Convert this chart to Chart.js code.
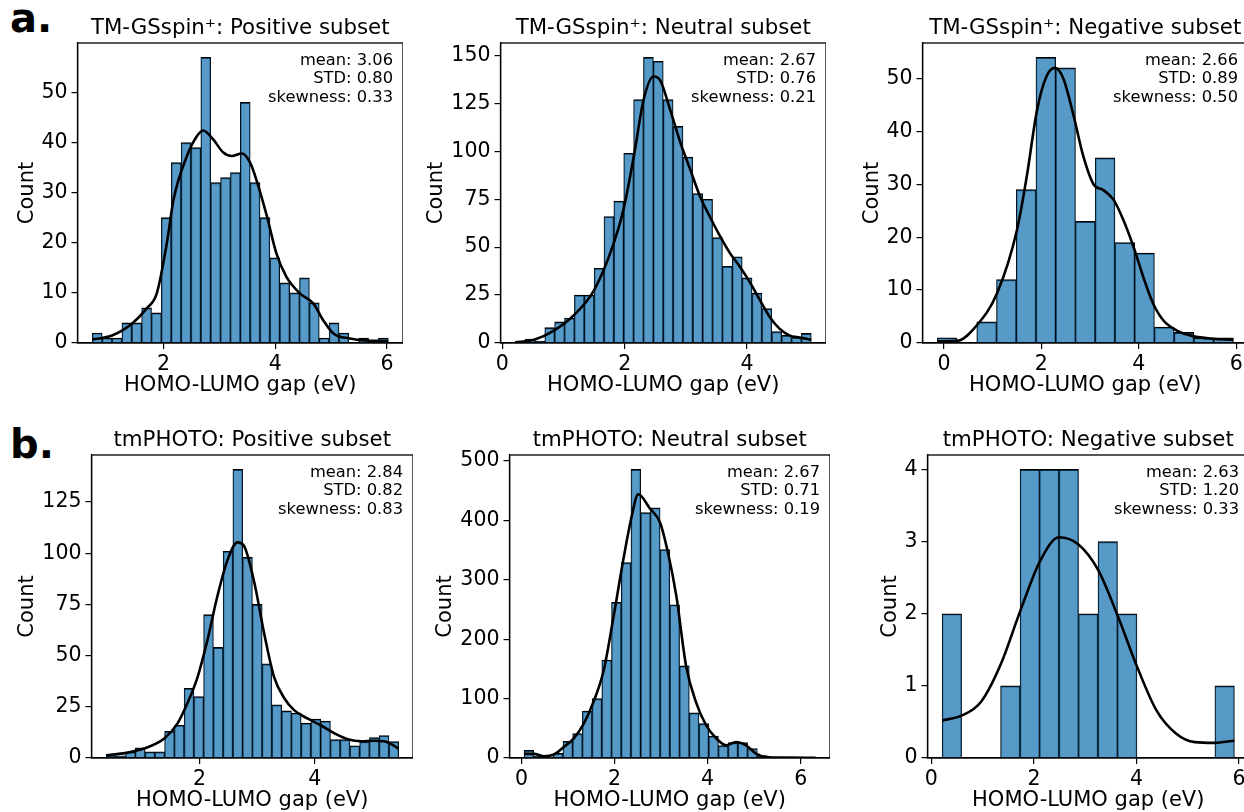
<!DOCTYPE html>
<html>
<head>
<meta charset="utf-8">
<title>HOMO-LUMO gap histograms</title>
<script src="https://cdn.jsdelivr.net/npm/chart.js@4.4.1/dist/chart.umd.min.js"></script>
<style>
  html, body { margin: 0; padding: 0; background: #fff; overflow: hidden; }
  body { width: 1244px; height: 812px; position: relative; }
  canvas { position: absolute; }
  .tag { position: absolute; font: bold 40px 'DejaVu Sans'; line-height: 40px; color: #000; }
</style>
</head>
<body>
<div class="tag" style="left:10px; top:-2px">a.</div>
<div class="tag" style="left:10px; top:424px">b.</div>
<canvas id="c1"></canvas>
<canvas id="c2"></canvas>
<canvas id="c3"></canvas>
<canvas id="c4"></canvas>
<canvas id="c5"></canvas>
<canvas id="c6"></canvas>
<script>
// panel titles and the stats box text
const titles = [
    'TM-GSspin\u207A: Positive subset',
    'TM-GSspin\u207A: Neutral subset',
    'TM-GSspin\u207A: Negative subset',
    'tmPHOTO: Positive subset',
    'tmPHOTO: Neutral subset',
    'tmPHOTO: Negative subset'
];
const stats = [
    ['mean: 3.06', 'STD: 0.80', 'skewness: 0.33'],
    ['mean: 2.67', 'STD: 0.76', 'skewness: 0.21'],
    ['mean: 2.66', 'STD: 0.89', 'skewness: 0.50'],
    ['mean: 2.84', 'STD: 0.82', 'skewness: 0.83'],
    ['mean: 2.67', 'STD: 0.71', 'skewness: 0.19'],
    ['mean: 2.63', 'STD: 1.20', 'skewness: 0.33']
];

// histogram bins (first edge, width in eV) and counts
const binStarts = [0.727, 0.21, -0.136, 0.382, 0.057, 0.21];
const binWidths = [0.1765, 0.1613, 0.405, 0.169, 0.2088, 0.38];
const counts1 = [2, 1, 1, 4, 4, 7, 6, 25, 36, 40, 39, 57, 32, 33, 34, 48, 32, 25, 17, 12, 10, 13, 8, 1, 4, 2, 0, 1, 0, 1];
const counts2 = [1, 2, 1, 8, 11, 13, 25, 25, 39, 66, 74, 99, 127, 149, 147, 127, 113, 97, 78, 75, 55, 40, 45, 34, 26, 18, 6, 4, 3, 5];
const counts3 = [1, 0, 4, 12, 29, 54, 52, 23, 35, 19, 17, 3, 2, 1, 1];
const counts4 = [1, 1, 3, 5, 3, 3, 13, 16, 34, 30, 70, 54, 101, 141, 98, 75, 46, 26, 23, 22, 17, 19, 18, 9, 9, 6, 8, 10, 11, 8];
const counts5 = [13, 3, 2, 8, 28, 41, 79, 100, 165, 262, 329, 486, 413, 421, 351, 258, 155, 76, 58, 37, 21, 26, 26, 16, 4, 1, 0, 0, 0, 1];
const counts6 = [2, 0, 0, 1, 4, 4, 4, 2, 3, 2, 0, 0, 0, 0, 1];

// kde curves
const kdeX1 = [0.73, 1.08, 1.44, 1.70, 1.88, 2.06, 2.18, 2.42, 2.60, 2.71, 2.89, 3.07, 3.22, 3.40, 3.55, 3.67, 3.85, 4.02, 4.20, 4.44, 4.68, 4.86, 5.04, 5.33, 5.63, 6.02];
const kdeY1 = [0.7, 1.5, 3.9, 6.9, 9.9, 19.9, 28.6, 37.3, 41.3, 42.4, 40.6, 38.0, 37.3, 37.8, 36.0, 32.3, 25.3, 17.9, 13.2, 9.9, 7.9, 4.5, 1.9, 0.9, 0.5, 0.4];
const kdeX2 = [0.21, 0.52, 0.85, 1.17, 1.50, 1.82, 1.98, 2.15, 2.31, 2.47, 2.58, 2.74, 2.91, 3.07, 3.23, 3.39, 3.56, 3.72, 3.88, 4.04, 4.21, 4.37, 4.53, 4.69, 4.86, 5.05];
const kdeY2 = [0.3, 1.7, 6.6, 14.5, 27.6, 52, 69.6, 97.6, 127, 139, 137, 122, 104.5, 90.6, 76.6, 66, 55.6, 46.9, 39.9, 32, 22.4, 13.6, 7.5, 4.0, 2.8, 1.7];
const kdeX3 = [-0.136, 0.27, 0.68, 1.09, 1.50, 1.70, 1.91, 2.11, 2.28, 2.45, 2.66, 2.86, 3.07, 3.27, 3.48, 3.68, 3.89, 4.09, 4.29, 4.50, 4.77, 5.11, 5.52, 5.94];
const kdeY3 = [0.3, 0.4, 3.4, 9.4, 21.4, 31.5, 44, 50.5, 52, 50, 43, 35.3, 30, 28.9, 27.1, 23.3, 18.2, 12.5, 7.5, 4.3, 2.4, 1.3, 0.8, 0.6];
const kdeX4 = [0.382, 0.73, 1.04, 1.39, 1.62, 1.79, 1.97, 2.14, 2.31, 2.49, 2.66, 2.77, 2.95, 3.12, 3.29, 3.47, 3.64, 3.87, 4.10, 4.34, 4.57, 4.80, 5.03, 5.20, 5.451];
const kdeY4 = [1.3, 2.5, 4.6, 9.5, 16.9, 26.7, 39.8, 57.8, 79, 97, 105.3, 103.7, 85.7, 61, 39.8, 29.2, 23.4, 19.3, 16, 12, 9.2, 8.2, 8.4, 8.2, 4.6];
const kdeX5 = [0.057, 0.27, 0.48, 0.70, 0.91, 1.12, 1.34, 1.55, 1.77, 1.98, 2.19, 2.37, 2.51, 2.76, 2.98, 3.15, 3.33, 3.54, 3.76, 3.97, 4.19, 4.40, 4.61, 4.83, 5.04, 5.25, 5.68, 6.32];
const kdeY5 = [7, 7, 3, 6, 18.6, 32.7, 58, 94.6, 148, 238, 334, 407, 444, 420, 396, 345, 272, 154, 92, 55, 32.7, 21.4, 27, 21.4, 7.3, 1.7, 0.6, 0.5];
const kdeX6 = [0.21, 0.60, 0.97, 1.36, 1.74, 2.12, 2.49, 2.87, 3.25, 3.64, 4.01, 4.39, 4.77, 5.14, 5.52, 5.91];
const kdeY6 = [0.52, 0.59, 0.78, 1.31, 2.05, 2.73, 3.06, 2.96, 2.61, 1.96, 1.27, 0.66, 0.34, 0.22, 0.21, 0.24];

// axis ranges and ticks
const xMins = [0.462, -0.03, -0.44, 0.129, -0.256, -0.075];
const xMaxs = [6.285, 5.29, 6.24, 5.70, 6.63, 6.195];
const yMaxs = [59.85, 156.5, 56.7, 148, 510, 4.2];
const xTicks = [[2, 4, 6], [0, 2, 4], [0, 2, 4, 6], [2, 4], [0, 2, 4, 6], [0, 2, 4, 6]];
const yTicks = [
    [0, 10, 20, 30, 40, 50],
    [0, 25, 50, 75, 100, 125, 150],
    [0, 10, 20, 30, 40, 50],
    [0, 25, 50, 75, 100, 125],
    [0, 100, 200, 300, 400, 500],
    [0, 1, 2, 3, 4]
];

const allCounts = [counts1, counts2, counts3, counts4, counts5, counts6];
const allKdeX = [kdeX1, kdeX2, kdeX3, kdeX4, kdeX5, kdeX6];
const allKdeY = [kdeY1, kdeY2, kdeY3, kdeY4, kdeY5, kdeY6];

// plot boxes on the page: left, top, right, bottom, and where "Count" sits
const boxes = [
    [77, 43, 403, 343, 27],
    [500, 43, 826, 343, 436],
    [922, 43, 1248, 343, 872],
    [91, 455, 413, 758, 27],
    [509, 455, 830, 758, 445],
    [927, 455, 1249, 758, 890]
];

const FONT = 'DejaVu Sans';
const TITLE_SIZE = 21.3;
const TITLE_H = 30;
const TITLE_PAD_B = 1.7;
const XAXIS_H = 55;

Chart.defaults.font.family = FONT;
Chart.defaults.color = '#000';

const framePlugin = {
    id: 'frame',
    afterDraw(chart, args, opts) {
        const { ctx, chartArea: a } = chart;
        ctx.save();
        ctx.strokeStyle = '#000';
        ctx.lineWidth = 1.3;
        ctx.strokeRect(a.left, a.top, a.right - a.left, a.bottom - a.top);
        ctx.font = '16.3px "' + FONT + '"';
        ctx.textAlign = 'right';
        ctx.textBaseline = 'middle';
        ctx.fillStyle = '#000';
        opts.lines.forEach((t, i) => ctx.fillText(t, a.right - 10, a.top + 17.5 + i * 18.7));
        ctx.restore();
    }
};

function makePanel(i) {
    const [left, top, right, bottom, countX] = boxes[i];
    const canvas = document.getElementById('c' + (i + 1));
    const cLeft = countX - 12.5;
    const cTop = top - TITLE_H;
    const yAxisW = left - cLeft;
    canvas.width = right - cLeft;
    canvas.height = TITLE_H + (bottom - top) + XAXIS_H;
    canvas.style.left = cLeft + 'px';
    canvas.style.top = cTop + 'px';

    const bars = allCounts[i].map((c, k) => ({ x: binStarts[i] + binWidths[i] * (k + 0.5), y: c }));
    const kde = allKdeX[i].map((x, k) => ({ x: x, y: allKdeY[i][k] }));

    const axisGrid = { display: true, drawOnChartArea: false, drawTicks: true, tickLength: 6, color: '#000', lineWidth: 1.2, offset: false };
    const titleLh = TITLE_SIZE * 1.2;

    new Chart(canvas, {
        type: 'bar',
        data: {
            datasets: [
                {
                    type: 'line',
                    data: kde,
                    borderColor: '#000',
                    borderWidth: 2.6,
                    pointRadius: 0,
                    cubicInterpolationMode: 'monotone',
                    fill: false,
                    order: 0
                },
                {
                    type: 'bar',
                    data: bars,
                    backgroundColor: 'rgba(31, 119, 180, 0.75)',
                    borderColor: '#000',
                    borderWidth: { top: 1.3, left: 0.85, right: 0.85, bottom: 0 },
                    borderSkipped: false,
                    barPercentage: 1,
                    categoryPercentage: 1,
                    order: 1
                }
            ]
        },
        options: {
            responsive: false,
            animation: false,
            layout: { padding: 0, autoPadding: false },
            plugins: {
                legend: { display: false },
                tooltip: { enabled: false },
                title: {
                    display: true,
                    text: titles[i],
                    fullSize: false,
                    font: { size: TITLE_SIZE, weight: 'normal' },
                    padding: { top: TITLE_H - titleLh - TITLE_PAD_B, bottom: TITLE_PAD_B }
                },
                frame: { lines: stats[i] }
            },
            scales: {
                x: {
                    type: 'linear',
                    min: xMins[i],
                    max: xMaxs[i],
                    offset: false,
                    afterFit: s => { s.height = XAXIS_H; },
                    afterBuildTicks: s => { s.ticks = xTicks[i].map(v => ({ value: v })); },
                    grid: axisGrid,
                    border: { display: true, color: '#000', width: 1.3 },
                    ticks: { font: { size: 20.5 }, padding: 3, maxRotation: 0 },
                    title: { display: true, text: 'HOMO-LUMO gap (eV)', font: { size: 21 }, padding: 0 }
                },
                y: {
                    min: 0,
                    max: yMaxs[i],
                    afterFit: s => { s.width = yAxisW; },
                    afterBuildTicks: s => { s.ticks = yTicks[i].map(v => ({ value: v })); },
                    grid: axisGrid,
                    border: { display: true, color: '#000', width: 1.3 },
                    ticks: { font: { size: 20.5 }, padding: 4 },
                    title: { display: true, text: 'Count', font: { size: 21 }, padding: 0 }
                }
            }
        },
        plugins: [framePlugin]
    });
}

for (let i = 0; i < 6; i++) makePanel(i);
</script>
</body>
</html>
